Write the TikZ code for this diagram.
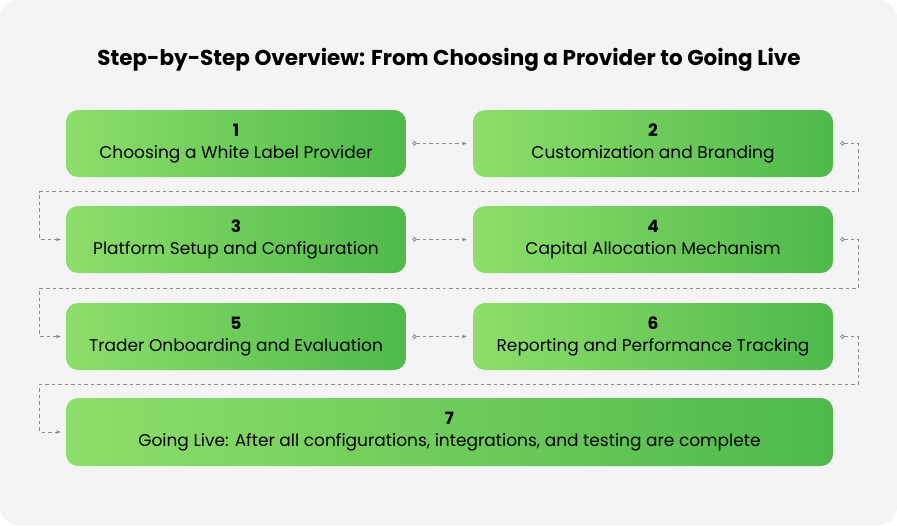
\documentclass[tikz,border=0pt]{standalone}
\usepackage{fontspec}
\setmainfont{Poppins}
\usepackage{xcolor}
\definecolor{bgcolor}{RGB}{244, 244, 246}
\definecolor{greenlight}{RGB}{142, 222, 106}
\definecolor{greendark}{RGB}{78, 186, 74}
\definecolor{linkgray}{RGB}{140, 140, 140}
\usetikzlibrary{arrows.meta, calc, positioning}

\tikzset{
  stepbox/.style={rounded corners=12pt, inner sep=0pt, align=center,
    font=\fontsize{17}{22}\selectfont,
    left color=greenlight, right color=greendark},
  link/.style={draw=linkgray, dashed, dash pattern=on 3.5pt off 3pt,
    line width=0.8pt, {Circle[length=4.5pt,open=false]}-{Stealth[length=5pt]}},
}

\begin{document}
\begin{tikzpicture}[x=1pt, y=-1pt]
  \useasboundingbox (0,0) rectangle (897,525);
  \fill[bgcolor, rounded corners=18pt] (0,0) rectangle (897,525);
  \node (title) at (449,60) {\fontsize{21.5}{26}\selectfont\bfseries
    Step-by-Step Overview: From Choosing a Provider to Going Live};

  \node[stepbox, minimum width=340pt, minimum height=67pt] (s1) at (236,143.5)
    {\textbf{1}\\Choosing a White Label Provider};
  \node[stepbox, minimum width=360pt, minimum height=67pt] (s2) at (653,143.5)
    {\textbf{2}\\Customization and Branding};
  \node[stepbox, minimum width=340pt, minimum height=67pt] (s3) at (236,239.5)
    {\textbf{3}\\Platform Setup and Configuration};
  \node[stepbox, minimum width=360pt, minimum height=67pt] (s4) at (653,239.5)
    {\textbf{4}\\Capital Allocation Mechanism};
  \node[stepbox, minimum width=340pt, minimum height=67pt] (s5) at (236,336.5)
    {\textbf{5}\\Trader Onboarding and Evaluation};
  \node[stepbox, minimum width=360pt, minimum height=67pt] (s6) at (653,336.5)
    {\textbf{6}\\Reporting and Performance Tracking};
  \node[stepbox, minimum width=767pt, minimum height=68pt] (s7) at (449.5,432)
    {\textbf{7}\\Going Live: After all configurations, integrations, and testing are complete};

  % links within a row
  \foreach \a/\b in {s1/s2, s3/s4, s5/s6}
    \draw[link] ([xshift=6pt]\a.east) -- ([xshift=-6pt]\b.west);

  % links from one row to the next
  \foreach \a/\b in {s2/s3, s4/s5, s6/s7}
    \draw[link] ([xshift=7pt]\a.east) -- ++(18pt,0)
      |- ($(\a.south)!0.5!(\b.north)$) -| ([xshift=-26pt]\b.west)
      -- ([xshift=-5pt]\b.west);
\end{tikzpicture}
\end{document}
